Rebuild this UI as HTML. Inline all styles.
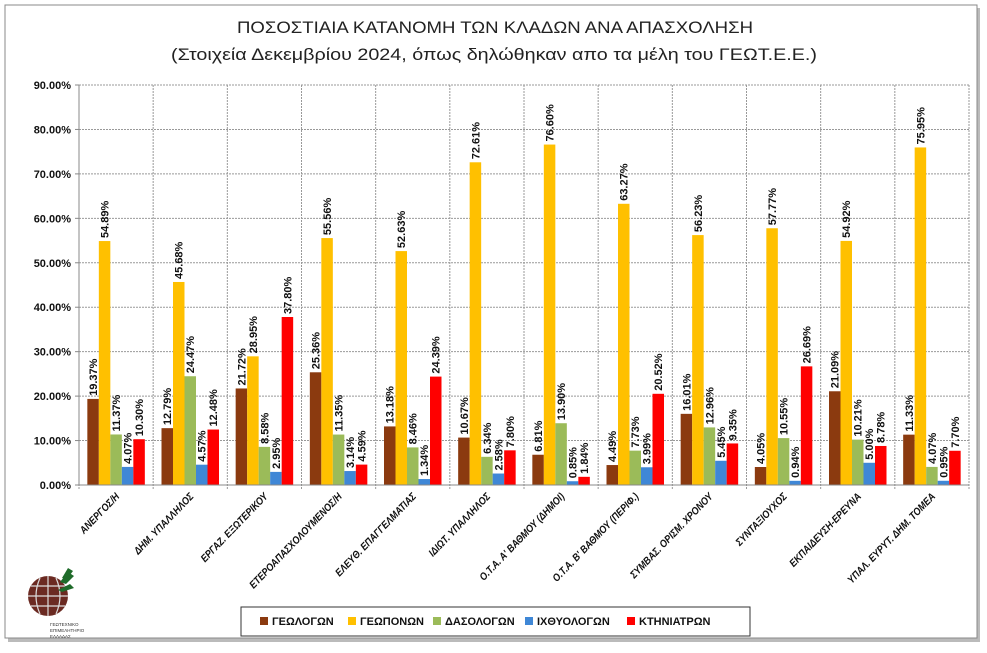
<!DOCTYPE html>
<html><head><meta charset="utf-8">
<style>
html,body{margin:0;padding:0;background:#fff;}
body{width:987px;height:648px;overflow:hidden;position:relative;font-family:"Liberation Sans","DejaVu Sans",sans-serif;}
</style></head>
<body>
<svg id="chart" width="987" height="648" xmlns="http://www.w3.org/2000/svg">
  <rect x="8" y="8" width="972" height="634" fill="#bbb"/>
  <rect x="5" y="5" width="972" height="633" fill="#fff" stroke="#888" stroke-width="1"/>
  <text x="495" y="33" text-anchor="middle" font-size="17" textLength="516" lengthAdjust="spacingAndGlyphs" fill="#222">ΠΟΣΟΣΤΙΑΙΑ ΚΑΤΑΝΟΜΗ  ΤΩΝ ΚΛΑΔΩΝ ΑΝΑ ΑΠΑΣΧΟΛΗΣΗ</text>
  <text x="494" y="60" text-anchor="middle" font-size="17" textLength="646" lengthAdjust="spacingAndGlyphs" fill="#222">(Στοιχεία Δεκεμβρίου 2024, όπως δηλώθηκαν  απο τα μέλη του ΓΕΩΤ.Ε.Ε.)</text>
  <g id="grid"></g>
  <g id="yaxis"></g>
  <g id="bars"></g>
  <g id="xaxis"></g>
  <g>
    <circle cx="48" cy="596" r="20" fill="#6b2a22"/>
    <path d="M28 596h40M48 576v40M31 586h34M31 606h34M40 578q-8 18 0 36M56 578q8 18 0 36" stroke="#ddd" stroke-width="1.2" fill="none"/>
    <path d="M60 582l8-10 6 4-8 8zM58 590l12-6 4 4-12 4zM62 578l6-10 5 3-6 8z" fill="#1f6b2a"/>
    <text x="50" y="626" font-size="4.5" fill="#333">ΓΕΩΤΕΧΝΙΚΟ</text>
    <text x="50" y="632" font-size="4.5" fill="#333">ΕΠΙΜΕΛΗΤΗΡΙΟ</text>
    <text x="50" y="638" font-size="4.5" fill="#333">ΕΛΛΑΔΑΣ</text>
  </g>
  <g>
    <rect x="241" y="607" width="509" height="29" fill="#fff" stroke="#333" stroke-width="1"/>
    <g id="legend-items"></g>
  </g>
</svg>
<script>
const categories = ["ΑΝΕΡΓΟΣ/Η","ΔΗΜ. ΥΠΑΛΛΗΛΟΣ","ΕΡΓΑΖ. ΕΞΩΤΕΡΙΚΟΥ","ΕΤΕΡΟΑΠΑΣΧΟΛΟΥΜΕΝΟΣ/Η","ΕΛΕΥΘ. ΕΠΑΓΓΕΛΜΑΤΙΑΣ","ΙΔΙΩΤ. ΥΠΑΛΛΗΛΟΣ","Ο.Τ.Α. Α' ΒΑΘΜΟΥ (ΔΗΜΟΙ)","Ο.Τ.Α. Β' ΒΑΘΜΟΥ (ΠΕΡΙΦ.)","ΣΥΜΒΑΣ. ΟΡΙΣΜ. ΧΡΟΝΟΥ","ΣΥΝΤΑΞΙΟΥΧΟΣ","ΕΚΠΑΙΔΕΥΣΗ-ΕΡΕΥΝΑ","ΥΠΑΛ. ΕΥΡΥΤ. ΔΗΜ. ΤΟΜΕΑ"];
const seriesNames = ["ΓΕΩΛΟΓΩΝ","ΓΕΩΠΟΝΩΝ","ΔΑΣΟΛΟΓΩΝ","ΙΧΘΥΟΛΟΓΩΝ","ΚΤΗΝΙΑΤΡΩΝ"];
const geologon = [19.37,12.79,21.72,25.36,13.18,10.67,6.81,4.49,16.01,4.05,21.09,11.33];
const geoponon = [54.89,45.68,28.95,55.56,52.63,72.61,76.60,63.27,56.23,57.77,54.92,75.95];
const dasologon = [11.37,24.47,8.58,11.35,8.46,6.34,13.90,7.73,12.96,10.55,10.21,4.07];
const ichthyologon = [4.07,4.57,2.95,3.14,1.34,2.58,0.85,3.99,5.45,0.94,5.00,0.95];
const ktiniatron = [10.30,12.48,37.80,4.59,24.39,7.80,1.84,20.52,9.35,26.69,8.78,7.70];
const yTicks = [0,10,20,30,40,50,60,70,80,90];

const series = [geologon,geoponon,dasologon,ichthyologon,ktiniatron];
const colors = ["#8B3A0F","#FFC000","#9BBB59","#3F87D6","#FF0000"];
const NS="http://www.w3.org/2000/svg";
const X0=79,X1=969,Y0=485,Y1=85,YMAX=90;
const cw=(X1-X0)/categories.length;
const y=v=>Y0-(v/YMAX)*(Y0-Y1);
const xc=i=>X0+cw*i;
function mk(tag,attrs,parent){const e=document.createElementNS(NS,tag);for(const k in attrs)e.setAttribute(k,attrs[k]);parent.appendChild(e);return e;}
const grid=document.getElementById('grid'),yax=document.getElementById('yaxis'),bars=document.getElementById('bars'),xax=document.getElementById('xaxis');
yTicks.forEach(t=>{
  const l=mk('line',{x1:X0,x2:X1,y1:y(t),y2:y(t),stroke:'#999','stroke-width':1,'stroke-dasharray':'2,1'},grid);
  
  
  const tx=mk('text',{x:X0-8,y:y(t)+4,'text-anchor':'end','font-size':11,'font-weight':'bold',fill:'#111'},yax);
  tx.textContent=t.toFixed(2)+'%';
  
  
  const tk=mk('line',{x1:X0-4,x2:X0,y1:y(t),y2:y(t),stroke:'#888'},yax);
  
  
});
for(let i=0;i<=categories.length;i++){
  const l=mk('line',{x1:xc(i),x2:xc(i),y1:Y1,y2:Y0+4,stroke:'#999','stroke-width':1,'stroke-dasharray':'2,1'},grid);
  
  
}
const ax=mk('line',{x1:X0,x2:X1,y1:Y0,y2:Y0,stroke:'#888'},xax);


const ay=mk('line',{x1:X0,x2:X0,y1:Y1,y2:Y0,stroke:'#888'},yax);


const bw=11.5,pad=(cw-bw*5)/2;
categories.forEach((c,i)=>{
  series.forEach((s,j)=>{
    const v=s[i],bx=xc(i)+pad+j*bw;
    const r=mk('rect',{x:bx,y:y(v),width:bw,height:Y0-y(v),fill:colors[j]},bars);
    
    
    const lx=bx+bw/2+4,ly=y(v)-3;
    const t=mk('text',{x:lx,y:ly,'font-size':11,'font-weight':'bold',fill:'#111',transform:`rotate(-90 ${lx} ${ly})`},bars);
    t.textContent=v.toFixed(2)+'%';
    
    
  });
  const cx=xc(i)+cw/2+4,cy=497;
  const t=mk('text',{x:0,y:0,'text-anchor':'end','font-size':10.5,'font-weight':'bold','font-style':'italic',fill:'#111'},xax);
  t.setAttribute('transform',`translate(${cx} ${cy}) rotate(-46) scale(0.86 1)`);
  t.textContent=c;
  
  
});
const lg=document.getElementById('legend-items');
const lx=[260,348,433,525,627];
seriesNames.forEach((n,j)=>{
  const r=mk('rect',{x:lx[j],y:617,width:8,height:8,fill:colors[j]},lg);
  
  
  const t=mk('text',{x:lx[j]+12,y:625,'font-size':11,'font-weight':'bold',fill:'#111'},lg);
  t.textContent=n;
  
  
});
</script>
</body></html>
